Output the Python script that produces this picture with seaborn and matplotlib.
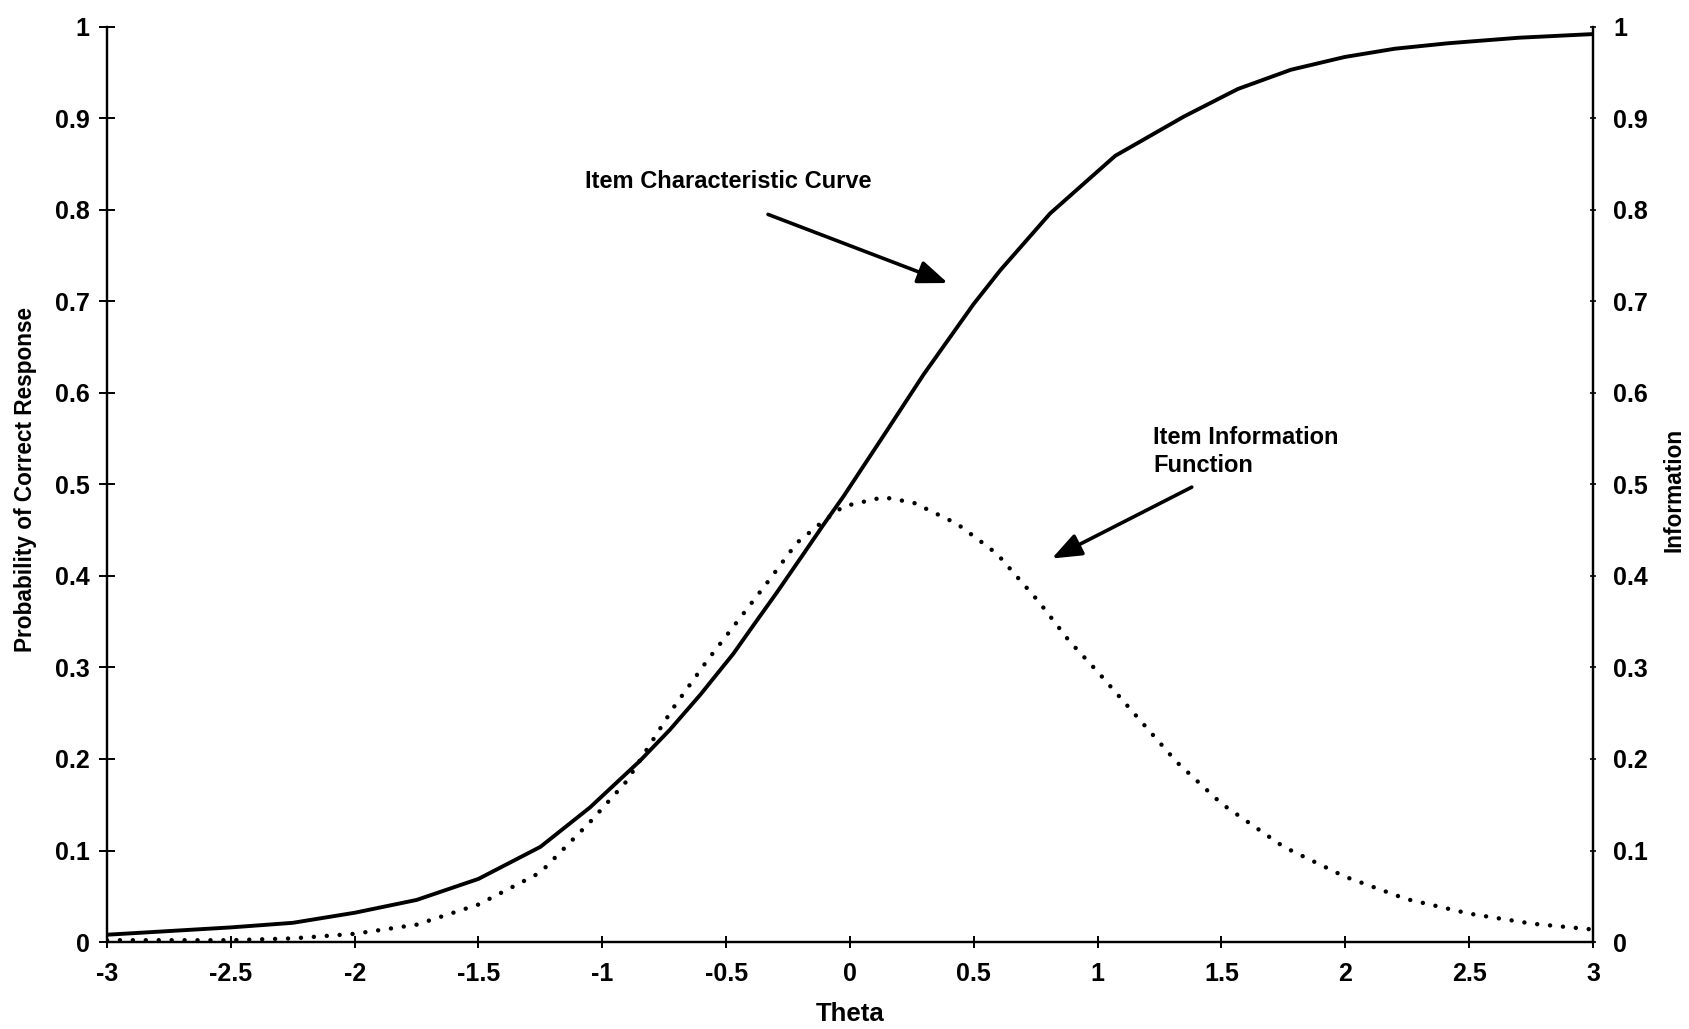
import matplotlib
matplotlib.use("Agg")
import matplotlib.pyplot as plt
import seaborn as sns
import pandas as pd

# ---- data ----
theta_icc = [-3, -2.75, -2.5, -2.25, -2, -1.75, -1.5, -1.25, -1.05, -0.848, -0.727, -0.605,
             -0.471, -0.39, -0.295, -0.188, -0.107, -0.026, 0.135, 0.297, 0.499, 0.607,
             0.808, 1.071, 1.349, 1.566, 1.78, 1.998, 2.2, 2.416, 2.7, 3.0]
icc = [0.008, 0.012, 0.016, 0.021, 0.032, 0.046, 0.069, 0.104, 0.147, 0.198, 0.232, 0.270,
       0.315, 0.346, 0.382, 0.424, 0.456, 0.487, 0.553, 0.620, 0.697, 0.734,
       0.796, 0.859, 0.902, 0.932, 0.953, 0.967, 0.976, 0.982, 0.988, 0.992]

theta_info = [-3, -2.5, -2.25, -2, -1.75, -1.5, -1.25, -1.05, -0.901, -0.713, -0.578, -0.444,
              -0.322, -0.215, -0.107, -0.026, 0.135, 0.257, 0.432, 0.566, 0.607, 0.762,
              0.885, 1.001, 1.14, 1.318, 1.501, 1.751, 1.998, 2.246, 2.501, 2.756, 2.988]
info = [0.002, 0.002, 0.004, 0.009, 0.019, 0.041, 0.076, 0.131, 0.176, 0.256, 0.307, 0.354,
        0.397, 0.436, 0.460, 0.476, 0.486, 0.480, 0.457, 0.430, 0.420, 0.372,
        0.329, 0.295, 0.252, 0.197, 0.151, 0.104, 0.0715, 0.047, 0.031, 0.020, 0.014]

x_ticks = [-3, -2.5, -2, -1.5, -1, -0.5, 0, 0.5, 1, 1.5, 2, 2.5, 3]
x_tick_labels = ["-3", "-2.5", "-2", "-1.5", "-1", "-0.5", "0", "0.5", "1", "1.5", "2", "2.5", "3"]
y_ticks = [0, 0.1, 0.2, 0.3, 0.4, 0.5, 0.6, 0.7, 0.8, 0.9, 1]
y_tick_labels = ["0", "0.1", "0.2", "0.3", "0.4", "0.5", "0.6", "0.7", "0.8", "0.9", "1"]

df_icc = pd.DataFrame({"theta": theta_icc, "p": icc})
df_info = pd.DataFrame({"theta": theta_info, "info": info})

sns.set_theme(style="white")
plt.rcParams["font.family"] = ["Liberation Sans", "DejaVu Sans"]
plt.rcParams["font.weight"] = "bold"

fig = plt.figure(figsize=(16.9, 10.29), dpi=100)
ax = fig.add_axes([0.0633, 0.0845, 0.8793, 0.8895])
ax2 = ax.twinx()

sns.lineplot(data=df_icc, x="theta", y="p", ax=ax, color="black", linewidth=2.8,
             sort=False)
sns.lineplot(data=df_info, x="theta", y="info", ax=ax2, color="black", linewidth=3.2,
             linestyle=(0, (0.01, 2.9)), dash_capstyle="round", sort=False)
for ln in ax.get_lines() + ax2.get_lines():
    ln.set_solid_joinstyle("round")

for a in (ax, ax2):
    a.set_xlim(-3, 3)
    a.set_ylim(0, 1)
    for s in a.spines.values():
        s.set_color("black")
        s.set_linewidth(1.6)
    a.spines["top"].set_visible(False)

ax.set_xticks(x_ticks)
ax.set_xticklabels(x_tick_labels)
ax.set_yticks(y_ticks)
ax.set_yticklabels(y_tick_labels)
ax2.set_yticks(y_ticks)
ax2.set_yticklabels(y_tick_labels)

ax.tick_params(axis="y", direction="inout", length=11, width=1.4, pad=7,
               labelsize=18, colors="black", left=True)
ax.tick_params(axis="x", direction="inout", length=9, width=1.4, pad=10,
               labelsize=18, colors="black", bottom=True)
ax2.tick_params(axis="y", direction="inout", length=5, width=1.2, pad=12,
                labelsize=18, colors="black", right=True)
for lab in ax.get_xticklabels() + ax.get_yticklabels() + ax2.get_yticklabels():
    lab.set_fontweight("bold")

ax.set_xlabel("Theta", fontsize=18.5, fontweight="bold", color="black")
ax.set_ylabel("Probability of Correct Response", fontsize=16.3, fontweight="bold", color="black")
ax2.set_ylabel("Information", fontsize=16.3, fontweight="bold", color="black")
ax.xaxis.set_label_coords(0.5, -0.066)
ax.yaxis.set_label_coords(-0.047, 0.505)
ax2.yaxis.set_label_coords(1.047, 0.494)

ax.text(-1.07, 0.831, "Item Characteristic Curve", fontsize=17, fontweight="bold",
        ha="left", va="center", color="black")
ax.annotate("", xy=(0.395, 0.72), xytext=(-0.331, 0.795),
            arrowprops=dict(arrowstyle="-|>,head_length=0.9,head_width=0.35",
                            mutation_scale=20, lw=2.6, color="black",
                            shrinkA=0, shrinkB=0))

ax.text(1.223, 0.536, "Item Information\nFunction", fontsize=17, fontweight="bold",
        ha="left", va="center", color="black", linespacing=1.32)
ax.annotate("", xy=(0.815, 0.419), xytext=(1.38, 0.497),
            arrowprops=dict(arrowstyle="-|>,head_length=0.9,head_width=0.35",
                            mutation_scale=20, lw=2.6, color="black",
                            shrinkA=0, shrinkB=0))

fig.savefig("out.png", dpi=100)
